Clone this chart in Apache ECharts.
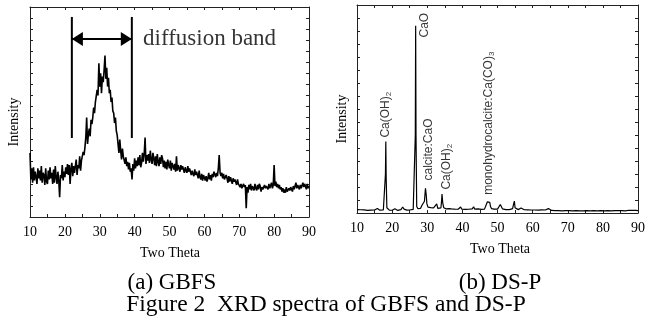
<!DOCTYPE html>
<html>
<head>
<meta charset="utf-8">
<script src="https://cdn.jsdelivr.net/npm/echarts@6/dist/echarts.min.js"></script>
<style>html,body{margin:0;padding:0;background:#fff;}#c{width:648px;height:329px;}</style>
</head>
<body>
<div id="c"></div>
<script>
// ---- Data ----
// (a) GBFS: intensity sampled every 0.25 deg, 10..90 (read from picture)
var gbfsStart = 10, gbfsStep = 0.25;
var gbfsIntensity = [
58,34,44,31, 45,33,41,36, 30,44,35,42, 33,46,31,40, 38,29,44,32,
30,42,34,45, 35,40,30,43, 31,46,36,30, 41,33,18,38, 35,47,33,41,
36,45,39,48, 38,47,30,44, 49,37,46,40, 41,52,38,47, 44,55,42,51,
50,59,56,63, 72,90,66,75, 80,73,88,84, 90,99,94,104, 103,115,110,139,
118,130,112,127, 122,133,146,125, 135,118,126,112, 115,104,108,96, 94,85,90,78,
74,66,58,70, 60,52,62,55, 56,48,54,46, 50,43,49,41, 44,34,48,42,
53,44,51,46, 54,47,56,45, 49,58,50,57, 72,48,56,51, 57,49,60,52,
48,58,53,47, 55,46,57,50, 46,54,48,56, 53,45,51,44, 50,43,52,47,
44,51,42,49, 50,43,48,41, 55,42,47,44, 41,47,43,46, 46,40,45,42,
40,46,41,44, 44,38,42,39, 37,43,38,41, 40,35,42,36, 34,39,33,38,
39,33,37,32, 35,40,34,38, 33,39,36,41, 42,36,40,37, 44,56,40,37,
40,35,39,34, 33,38,35,31, 37,32,36,33, 30,35,32,34, 33,29,34,30,
31,27,30,26, 25,30,27,29, 8,27,22,29, 25,30,24,28, 29,24,30,26,
24,29,25,30, 28,23,27,25, 24,29,26,28, 29,25,30,26, 27,31,26,29,
47,28,32,27, 30,26,29,25, 27,23,26,22, 25,22,27,23, 22,26,24,27,
27,23,28,25, 25,31,26,29, 30,25,29,26, 26,31,27,30, 29,25,30,26,
28
];
// diffusion band markers (two theta / intensity)
var bandFrom = 22, bandTo = 39.2;
var bandLineTop = 181, bandLineBottom = 71.5, bandArrowLevel = 161;

// (b) DS-P: [two theta, intensity]
var dspTheta = [10,10.5,11,11.5,12,12.5,13,13.5,14,14.5,15,15.5,15.8,16.1,16.5,17,17.5,17.9,18.1,18.2,18.3,18.5,18.8,19.2,19.6,20,20.5,20.8,21.2,21.6,22,22.5,23,23.4,23.8,24.2,24.6,25,25.5,26,26.4,26.6,26.7,26.8,27.0,27.3,27.7,28.1,28.5,28.9,29.2,29.4,29.5,29.7,29.9,30.2,30.6,31.0,31.4,31.8,32.2,32.7,33.0,33.5,33.9,34.1,34.2,34.4,34.7,35.0,35.4,35.8,36.2,36.5,36.9,37.3,37.8,38.3,38.8,39.2,39.5,39.8,40.3,40.8,41.3,41.8,42.3,42.8,43.2,43.5,44.0,44.5,45.0,45.4,45.8,46.3,46.8,47.1,47.3,47.5,47.8,48.0,48.3,48.7,49.0,49.5,50.0,50.4,50.8,51.1,51.4,51.9,52.4,52.9,53.4,53.9,54.3,54.6,54.8,55.0,55.4,55.9,56.4,56.7,57.1,57.6,58.1,58.6,59.1,59.6,60.1,60.6,61.1,61.6,62.1,62.6,63.1,63.6,64.1,64.5,64.9,65.4,65.9,66.4,66.9,67.4,67.9,68.4,68.9,69.4,69.9,70.4,70.9,71.4,71.9,72.4,72.9,73.4,73.9,74.4,74.9,75.4,75.9,76.4,76.9,77.4,77.9,78.4,78.9,79.4,79.9,80.4,80.9,81.4,81.9,82.4,82.9,83.4,83.9,84.4,84.9,85.4,85.9,86.4,86.9,87.4,87.9,88.4,88.9,89.4,90];
var dspIntensity = [2.6,2.2,2.5,2.1,2.4,2.3,2.0,2.4,2.2,1.9,2.3,2.1,3.5,2.0,2.2,2.0,2.3,3.0,30,55,28,4,2.5,2.2,2.4,2.1,2.3,3.2,2.2,2.0,2.3,2.6,4.6,3.0,2.4,2.2,2.5,2.3,2.6,2.8,3.2,60,144,60,5,3.4,3.0,3.6,6,5,9,16,19,14,7,4.5,3.8,4.2,3.6,4.0,3.4,7,3.6,3.2,4.0,10,14.6,8,4.0,3.6,3.2,4.2,3.4,4.6,3.2,2.8,3.0,2.6,2.9,3.4,4.6,3.0,2.6,2.8,2.5,2.9,2.6,3.2,4.8,3.0,2.7,3.1,4.2,2.8,2.6,3.0,4.0,8.5,10,7,8.2,5,3.4,4.6,3.0,2.6,3.0,3.6,6.5,5,3.2,2.8,2.6,3.0,2.6,2.9,3.4,7,9.2,4,2.8,2.6,3.4,3.8,2.8,2.5,2.8,2.4,2.7,2.3,2.6,2.3,2.6,2.2,2.8,2.4,2.7,2.3,2.6,3.4,2.3,2.0,2.2,1.9,2.1,1.8,2.0,1.7,2.0,1.8,2.1,1.8,2.0,1.7,2.2,1.8,2.0,1.7,1.9,1.7,2.0,1.8,2.1,1.7,1.9,1.8,2.0,1.7,1.9,1.8,2.0,1.7,1.9,1.8,2.1,1.7,1.9,1.8,2.0,1.8,2.4,1.8,2.0,1.7,1.9,2.1,1.8,2.0,1.7,2.0,1.9];

// peak annotations for (b): [two theta, intensity at text start]
var dspLabelText = ['Ca(OH)', 'CaO', 'calcite:CaO', 'Ca(OH)', 'monohydrocalcite:Ca(CO)'];
var dspLabelSub = ['2', '', '', '2', '3'];
var dspLabelTheta = [18.1, 29.3, 30.5, 35.6, 47.5];
var dspLabelLevel = [58, 135, 25, 18, 14];

var xTicks = [10, 20, 30, 40, 50, 60, 70, 80, 90];
var texts = {
  yName: 'Intensity', xName: 'Two Theta',
  band: 'diffusion band', subA: '(a) GBFS', subB: '(b) DS-P',
  caption: 'Figure 2  XRD spectra of GBFS and DS-P'
};

// ---- Build ----
var serif = 'Liberation Serif, Times New Roman, serif';
var sans = 'Liberation Sans, Arial, sans-serif';
var gbfsData = gbfsIntensity.map(function (v, i) { return [gbfsStart + i * gbfsStep, v]; });
var dspData = dspTheta.map(function (t, i) { return [t, dspIntensity[i]]; });

var axisCol = '#222';
function xAx(grid, pos, labels) {
  return {
    type: 'value', gridIndex: grid, position: pos, min: xTicks[0], max: xTicks[xTicks.length - 1], interval: 5,
    axisLine: { onZero: false, lineStyle: { color: axisCol, width: 1 } },
    axisTick: { inside: true, length: 3, lineStyle: { color: axisCol } },
    axisLabel: { show: labels, margin: 8, color: '#000', fontFamily: serif, fontSize: 14,
      formatter: function (v) { return xTicks.indexOf(v) >= 0 ? String(v) : ''; } },
    splitLine: { show: false }
  };
}
function yAx(grid, pos, max) {
  return {
    type: 'value', gridIndex: grid, position: pos, min: 0, max: max, interval: 10,
    axisLine: { onZero: false, lineStyle: { color: axisCol, width: 1 } },
    axisTick: { inside: true, length: 3, lineStyle: { color: axisCol } },
    axisLabel: { show: false }, splitLine: { show: false }
  };
}

var dspLabels = dspLabelText.map(function (t, i) {
  var sub = dspLabelSub[i];
  return {
    value: [dspLabelTheta[i], dspLabelLevel[i]],
    label: { formatter: '{m|' + t + '}' + (sub ? '{s|' + sub + '}' : '') }
  };
});

var chart = echarts.init(document.getElementById('c'), null, { renderer: 'canvas' });
chart.setOption({
  animation: false,
  backgroundColor: '#fff',
  grid: [
    { left: 30, right: 339, top: 7, bottom: 112 },
    { left: 357, right: 6, top: 5, bottom: 116 }
  ],
  xAxis: [xAx(0, 'bottom', true), xAx(0, 'top', false), xAx(1, 'bottom', true), xAx(1, 'top', false)],
  yAxis: [yAx(0, 'left', 190), yAx(0, 'right', 190), yAx(1, 'left', 160), yAx(1, 'right', 160)],
  series: [
    { type: 'line', xAxisIndex: 0, yAxisIndex: 0, data: gbfsData, showSymbol: false,
      lineStyle: { color: '#000', width: 1.6 } },
    { type: 'line', xAxisIndex: 0, yAxisIndex: 0, data: [[bandFrom, bandLineTop], [bandFrom, bandLineBottom]],
      showSymbol: false, lineStyle: { color: '#000', width: 2 } },
    { type: 'line', xAxisIndex: 0, yAxisIndex: 0, data: [[bandTo, bandLineTop], [bandTo, bandLineBottom]],
      showSymbol: false, lineStyle: { color: '#000', width: 2 } },
    { type: 'line', xAxisIndex: 0, yAxisIndex: 0, data: [], showSymbol: false,
      markLine: { silent: true, symbol: ['triangle', 'triangle'], symbolSize: [14, 11],
        symbolOffset: [[0, 5.5], [0, 5.5]],
        lineStyle: { color: '#000', width: 2, type: 'solid' }, label: { show: false },
        data: [[{ coord: [bandFrom, bandArrowLevel] }, { coord: [bandTo, bandArrowLevel] }]] } },
    { type: 'scatter', xAxisIndex: 0, yAxisIndex: 0, symbolSize: 0,
      data: [[bandTo + 3.2, bandArrowLevel]],
      label: { show: true, position: 'inside', align: 'left', verticalAlign: 'middle',
        formatter: texts.band, color: '#000', fontFamily: serif, fontSize: 23 } },
    { type: 'line', xAxisIndex: 2, yAxisIndex: 2, data: dspData, showSymbol: false,
      lineStyle: { color: '#000', width: 1.2 } },
    { type: 'scatter', xAxisIndex: 2, yAxisIndex: 2, symbolSize: 0, data: dspLabels,
      label: { show: true, position: 'inside', rotate: 90, align: 'left', verticalAlign: 'middle',
        color: '#000', fontFamily: sans,
        rich: { m: { fontSize: 12, fontFamily: sans, color: '#000' },
                s: { fontSize: 8, fontFamily: sans, color: '#000', verticalAlign: 'bottom', padding: [6, 0, 0, 0] } } } }
  ],
  graphic: [
    { type: 'text', x: 14, y: 122, rotation: Math.PI / 2, style: { text: texts.yName, font: '14px ' + serif, fill: '#000', align: 'center', verticalAlign: 'middle' } },
    { type: 'text', x: 342, y: 119, rotation: Math.PI / 2, style: { text: texts.yName, font: '14px ' + serif, fill: '#000', align: 'center', verticalAlign: 'middle' } },
    { type: 'text', x: 170, y: 253, style: { text: texts.xName, font: '14px ' + serif, fill: '#000', align: 'center', verticalAlign: 'middle' } },
    { type: 'text', x: 500, y: 249, style: { text: texts.xName, font: '14px ' + serif, fill: '#000', align: 'center', verticalAlign: 'middle' } },
    { type: 'text', x: 172, y: 283, style: { text: texts.subA, font: '23px ' + serif, fill: '#000', align: 'center', verticalAlign: 'middle' } },
    { type: 'text', x: 500, y: 283, style: { text: texts.subB, font: '23px ' + serif, fill: '#000', align: 'center', verticalAlign: 'middle' } },
    { type: 'text', x: 326, y: 305, style: { text: texts.caption, font: '23.5px ' + serif, fill: '#000', align: 'center', verticalAlign: 'middle' } }
  ]
});
</script>
</body>
</html>
